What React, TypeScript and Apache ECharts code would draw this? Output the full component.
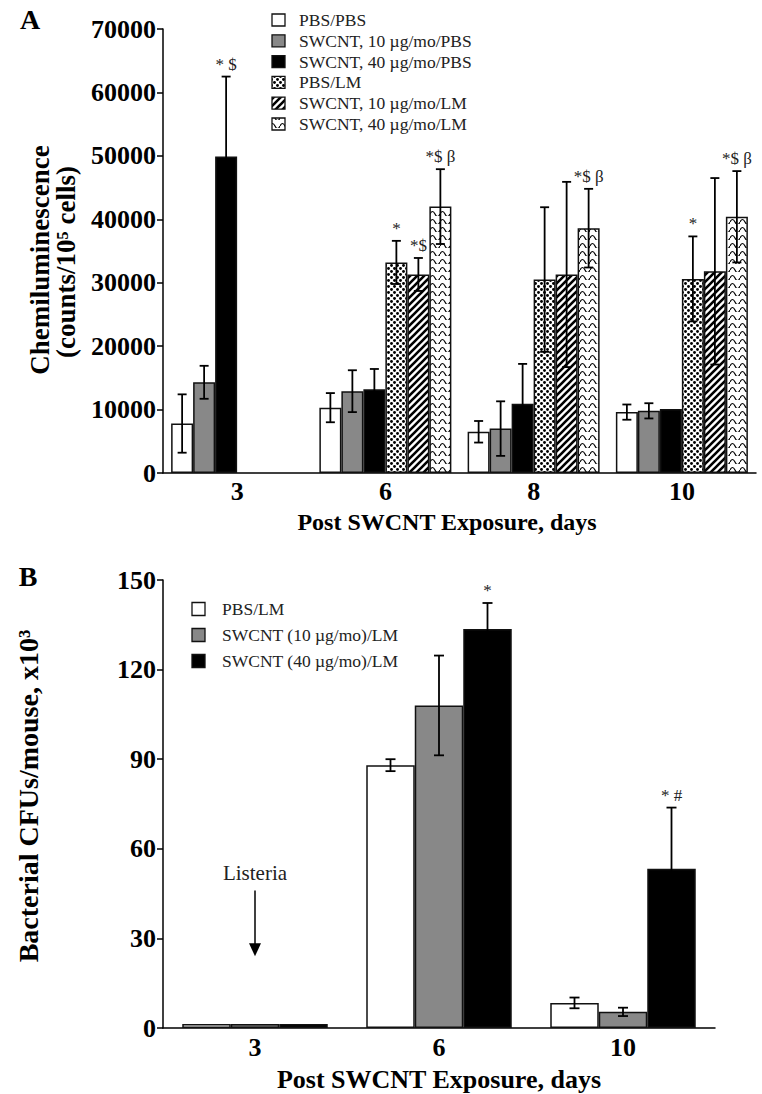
import React, { useEffect, useRef } from 'react';
import * as echarts from 'echarts';

// ---------- Panel A data ----------
const daysA = ['3', '6', '8', '10'];
const groupsA = [
  'PBS/PBS',
  'SWCNT, 10 µg/mo/PBS',
  'SWCNT, 40 µg/mo/PBS',
  'PBS/LM',
  'SWCNT, 10 µg/mo/LM',
  'SWCNT, 40 µg/mo/LM',
];
const pbsPbs = [7800, 10300, 6500, 9600];
const pbsPbsErr = [4600, 2300, 1700, 1200];
const sw10Pbs = [14300, 12900, 7000, 9800];
const sw10PbsErr = [2600, 3300, 4300, 1200];
const sw40Pbs = [49900, 13200, 10900, 10100];
const sw40PbsErr = [12600, 3200, 6300, 0];
const pbsLm = [null, 33200, 30500, 30600];
const pbsLmErr = [0, 3400, 11400, 6700];
const sw10Lm = [null, 31300, 31300, 31800];
const sw10LmErr = [0, 2600, 14600, 14700];
const sw40Lm = [null, 42000, 38600, 40400];
const sw40LmErr = [0, 5900, 6200, 7200];
const yTicksA = [0, 10000, 20000, 30000, 40000, 50000, 60000, 70000];
const annotA = [
  { cat: 0, s: 2, text: '* $' },
  { cat: 1, s: 3, text: '*' },
  { cat: 1, s: 4, text: '*$' },
  { cat: 1, s: 5, text: '*$ β' },
  { cat: 2, s: 5, text: '*$ β' },
  { cat: 3, s: 3, text: '*' },
  { cat: 3, s: 5, text: '*$ β' },
];

// ---------- Panel B data ----------
const daysB = ['3', '6', '10'];
const groupsB = ['PBS/LM', 'SWCNT (10 µg/mo)/LM', 'SWCNT (40 µg/mo)/LM'];
const bPbsLm = [1.3, 88, 8.4];
const bPbsLmErr = [0, 2, 1.8];
const bSw10Lm = [1.3, 108, 5.4];
const bSw10LmErr = [0, 16.7, 1.4];
const bSw40Lm = [1.3, 133.6, 53.3];
const bSw40LmErr = [0, 8.7, 20.5];
const yTicksB = [0, 30, 60, 90, 120, 150];
const annotB = [
  { cat: 1, s: 2, text: '*' },
  { cat: 2, s: 2, text: '* #' },
];
const listeria = { cat: 0, label: 'Listeria', textValue: 52, arrowFrom: 46, arrowTo: 24 };

const FONT = '"Liberation Serif", "Times New Roman", Times, serif';

function svgPattern(svg: string, w: number, h: number) {
  return {
    image: 'data:image/svg+xml;base64,' + btoa(svg),
    imageWidth: w,
    imageHeight: h,
    repeat: 'repeat',
  };
}

const dotsFill = svgPattern(
  "<svg xmlns='http://www.w3.org/2000/svg' width='6' height='6'><rect width='6' height='6' fill='white'/><circle cx='1.5' cy='1.5' r='1.45' fill='black'/><circle cx='4.5' cy='4.5' r='1.45' fill='black'/></svg>",
  6,
  6
);
const hatchFill = svgPattern(
  "<svg xmlns='http://www.w3.org/2000/svg' width='7' height='7'><rect width='7' height='7' fill='white'/><path d='M-1,8 L8,-1 M-1,1 L1,-1 M6,8 L8,6' stroke='black' stroke-width='2.6'/></svg>",
  7,
  7
);
const waveFill = svgPattern(
  "<svg xmlns='http://www.w3.org/2000/svg' width='10' height='8'><rect width='10' height='8' fill='white'/><path d='M0,6 Q2.5,1 5,6 T10,6' fill='none' stroke='black' stroke-width='1.2'/></svg>",
  10,
  8
);

const fillsA: any[] = ['#ffffff', '#888888', '#000000', dotsFill, hatchFill, waveFill];
const fillsB: any[] = ['#ffffff', '#888888', '#000000'];

export default function App() {
  const ref = useRef<HTMLDivElement>(null);

  useEffect(() => {
    document.body.style.margin = '0';
    if (!ref.current) return;
    const chart = echarts.init(ref.current, null, { renderer: 'svg' });

    const valsA = [pbsPbs, sw10Pbs, sw40Pbs, pbsLm, sw10Lm, sw40Lm];
    const errsA = [pbsPbsErr, sw10PbsErr, sw40PbsErr, pbsLmErr, sw10LmErr, sw40LmErr];
    const valsB = [bPbsLm, bSw10Lm, bSw40Lm];
    const errsB = [bPbsLmErr, bSw10LmErr, bSw40LmErr];

    const barWA = 22;
    const barWB = 48.5;

    const errItems = (vals: any[][], errs: number[][]) => {
      const out: number[][] = [];
      vals.forEach((arr, s) =>
        arr.forEach((v, c) => {
          if (v != null && errs[s][c]) out.push([c, s, v, errs[s][c]]);
        })
      );
      return out;
    };

    const errSeries = (axis: number, vals: any[][], errs: number[][], barW: number, cap: number) => ({
      type: 'custom',
      xAxisIndex: axis,
      yAxisIndex: axis,
      silent: true,
      z: 5,
      encode: { x: 0, y: 2 },
      data: errItems(vals, errs),
      renderItem: (params: any, api: any) => {
        const cat = api.value(0);
        const s = api.value(1);
        const mean = api.value(2);
        const err = api.value(3);
        const n = vals.length;
        const c = api.coord([cat, mean]);
        const x = c[0] + (s - (n - 1) / 2) * barW;
        const yTop = api.coord([cat, mean + err])[1];
        const yBot = api.coord([cat, Math.max(0, mean - err)])[1];
        const style = { stroke: '#000', lineWidth: 1.8 };
        return {
          type: 'group',
          children: [
            { type: 'line', shape: { x1: x, y1: yTop, x2: x, y2: yBot }, style },
            { type: 'line', shape: { x1: x - cap / 2, y1: yTop, x2: x + cap / 2, y2: yTop }, style },
            { type: 'line', shape: { x1: x - cap / 2, y1: yBot, x2: x + cap / 2, y2: yBot }, style },
          ],
        };
      },
    });

    const annotSeries = (axis: number, list: any[], vals: any[][], errs: number[][], barW: number, gap: number) => ({
      type: 'custom',
      xAxisIndex: axis,
      yAxisIndex: axis,
      silent: true,
      z: 6,
      encode: { x: 0, y: 1 },
      data: list.map((a) => [a.cat, (vals[a.s][a.cat] as number) + errs[a.s][a.cat]]),
      renderItem: (params: any, api: any) => {
        const a = list[params.dataIndex];
        const n = vals.length;
        const p = api.coord([api.value(0), api.value(1)]);
        const x = p[0] + (a.s - (n - 1) / 2) * barW;
        return {
          type: 'text',
          x,
          y: p[1] - gap,
          style: {
            text: a.text,
            font: `17px ${FONT}`,
            fill: '#222',
            align: 'center',
            verticalAlign: 'bottom',
          },
        };
      },
    });

    const listeriaSeries = {
      type: 'custom',
      xAxisIndex: 1,
      yAxisIndex: 1,
      silent: true,
      z: 6,
      encode: { x: 0, y: 1 },
      data: [[listeria.cat, listeria.textValue, listeria.arrowFrom, listeria.arrowTo]],
      renderItem: (params: any, api: any) => {
        const t = api.coord([api.value(0), api.value(1)]);
        const a1 = api.coord([api.value(0), api.value(2)]);
        const a2 = api.coord([api.value(0), api.value(3)]);
        const x = t[0];
        return {
          type: 'group',
          children: [
            {
              type: 'text',
              x,
              y: t[1],
              style: { text: listeria.label, font: `21px ${FONT}`, fill: '#222', align: 'center', verticalAlign: 'middle' },
            },
            { type: 'line', shape: { x1: x, y1: a1[1], x2: x, y2: a2[1] - 10 }, style: { stroke: '#000', lineWidth: 1.5 } },
            {
              type: 'polygon',
              shape: { points: [[x - 6, a2[1] - 13], [x + 6, a2[1] - 13], [x, a2[1]]] },
              style: { fill: '#000' },
            },
          ],
        };
      },
    };

    const barSeriesA = groupsA.map((name, i) => ({
      type: 'bar',
      name,
      xAxisIndex: 0,
      yAxisIndex: 0,
      data: valsA[i],
      barWidth: barWA,
      barGap: '0%',
      itemStyle: { color: fillsA[i], borderColor: '#111', borderWidth: 1.5 },
      silent: true,
    }));
    const barSeriesB = groupsB.map((name, i) => ({
      type: 'bar',
      name: name + '\u200b',
      xAxisIndex: 1,
      yAxisIndex: 1,
      data: valsB[i],
      barWidth: barWB,
      barGap: '0%',
      itemStyle: { color: fillsB[i], borderColor: '#111', borderWidth: 1.5 },
      silent: true,
    }));

    const axisLine = { show: true, lineStyle: { color: '#000', width: 1.5 } };
    const tickLabel = { fontFamily: FONT, fontWeight: 'bold', fontSize: 26, color: '#000' };

    const legendGraphics: any[] = [];
    groupsA.forEach((name, i) => {
      const cy = 20 + 20.8 * i;
      legendGraphics.push({
        type: 'rect',
        shape: { x: 272, y: cy - 6, width: 13, height: 12 },
        style: { fill: fillsA[i], stroke: '#111', lineWidth: 1.3 },
      });
      legendGraphics.push({
        type: 'text',
        x: 299,
        y: cy,
        style: { text: name, font: `17.5px ${FONT}`, fill: '#222', align: 'left', verticalAlign: 'middle' },
      });
    });
    groupsB.forEach((name, i) => {
      const cy = 609 + 26 * i;
      legendGraphics.push({
        type: 'rect',
        shape: { x: 192, y: cy - 6.5, width: 13, height: 13 },
        style: { fill: fillsB[i], stroke: '#111', lineWidth: 1.3 },
      });
      legendGraphics.push({
        type: 'text',
        x: 222,
        y: cy,
        style: { text: name, font: `17.5px ${FONT}`, fill: '#222', align: 'left', verticalAlign: 'middle' },
      });
    });

    const bold = (size: number) => `bold ${size}px ${FONT}`;
    const titleGraphics: any[] = [
      { type: 'text', x: 30, y: 19, style: { text: 'A', font: bold(28), fill: '#000', align: 'center', verticalAlign: 'middle' } },
      { type: 'text', x: 28, y: 576, style: { text: 'B', font: bold(28), fill: '#000', align: 'center', verticalAlign: 'middle' } },
      {
        type: 'text', x: 40, y: 260, rotation: Math.PI / 2,
        style: { text: 'Chemiluminescence', font: bold(27), fill: '#000', align: 'center', verticalAlign: 'middle' },
      },
      {
        type: 'text', x: 66, y: 262, rotation: Math.PI / 2,
        style: { text: '(counts/10\u2075 cells)', font: bold(27), fill: '#000', align: 'center', verticalAlign: 'middle' },
      },
      {
        type: 'text', x: 447, y: 522,
        style: { text: 'Post SWCNT Exposure, days', font: bold(24), fill: '#000', align: 'center', verticalAlign: 'middle' },
      },
      {
        type: 'text', x: 28, y: 796, rotation: Math.PI / 2,
        style: { text: 'Bacterial CFUs/mouse, x10\u00b3', font: bold(28), fill: '#000', align: 'center', verticalAlign: 'middle' },
      },
      {
        type: 'text', x: 439, y: 1079,
        style: { text: 'Post SWCNT Exposure, days', font: bold(26), fill: '#000', align: 'center', verticalAlign: 'middle' },
      },
    ];

    chart.setOption({
      animation: false,
      backgroundColor: '#ffffff',
      grid: [
        { left: 163, top: 29, width: 593, height: 444, containLabel: false },
        { left: 163, top: 580, width: 552, height: 448, containLabel: false },
      ],
      xAxis: [
        {
          type: 'category', gridIndex: 0, data: daysA,
          axisLine, axisTick: { show: false },
          axisLabel: { ...tickLabel, margin: 5 },
          splitLine: { show: false },
        },
        {
          type: 'category', gridIndex: 1, data: daysB,
          axisLine, axisTick: { show: false },
          axisLabel: { ...tickLabel, margin: 6 },
          splitLine: { show: false },
        },
      ],
      yAxis: [
        {
          type: 'value', gridIndex: 0, min: yTicksA[0], max: yTicksA[yTicksA.length - 1],
          interval: yTicksA[1] - yTicksA[0],
          axisLine, axisTick: { show: true, length: 6, lineStyle: { color: '#000', width: 1.5 } },
          axisLabel: { ...tickLabel, margin: 7, formatter: (v: number) => String(v) },
          splitLine: { show: false },
        },
        {
          type: 'value', gridIndex: 1, min: yTicksB[0], max: yTicksB[yTicksB.length - 1],
          interval: yTicksB[1] - yTicksB[0],
          axisLine, axisTick: { show: true, length: 6, lineStyle: { color: '#000', width: 1.5 } },
          axisLabel: { ...tickLabel, margin: 7, formatter: (v: number) => String(v) },
          splitLine: { show: false },
        },
      ],
      series: [
        ...barSeriesA,
        ...barSeriesB,
        errSeries(0, valsA, errsA, barWA, 9),
        errSeries(1, valsB, errsB, barWB, 10),
        annotSeries(0, annotA, valsA, errsA, barWA, 4),
        annotSeries(1, annotB, valsB, errsB, barWB, 4),
        listeriaSeries,
      ],
      graphic: [...legendGraphics, ...titleGraphics],
    });

    return () => {
      chart.dispose();
    };
  }, []);

  return <div ref={ref} style={{ width: 762, height: 1094 }} />;
}
